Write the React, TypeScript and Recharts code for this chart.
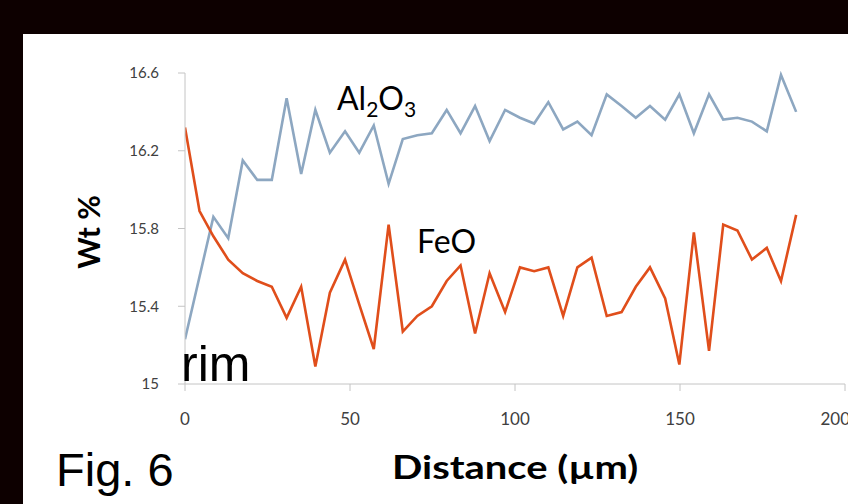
import React from "react";
import { LineChart, Line, XAxis, YAxis } from "recharts";

// distance along the traverse (µm)
const distance = [
  0, 4.4, 8.6, 13.1, 17.5, 21.9, 26.3, 30.8, 35.2, 39.5, 43.9, 48.5, 52.8, 57.2, 61.7,
  66.0, 70.4, 74.8, 79.3, 83.5, 87.9, 92.3, 97.0, 101.5, 105.8, 110.1, 114.6, 118.9,
  123.2, 127.8, 132.3, 136.6, 140.9, 145.5, 149.8, 154.2, 158.8, 163.1, 167.4, 171.8,
  176.3, 180.6, 185.2,
];

const al2o3 = [
  15.23, null, 15.86, 15.75, 16.15, 16.05, 16.05, 16.47, 16.08, 16.41, 16.19, 16.3,
  16.19, 16.33, 16.03, 16.26, 16.28, 16.29, 16.41, 16.29, 16.43, 16.25, 16.41, 16.37,
  16.34, 16.45, 16.31, 16.35, 16.28, 16.49, 16.43, 16.37, 16.43, 16.36, 16.49, 16.29,
  16.49, 16.36, 16.37, 16.35, 16.3, 16.59, 16.4,
];

const feo = [
  16.32, 15.89, 15.76, 15.64, 15.57, 15.53, 15.5, 15.34, 15.5, 15.09, 15.47, 15.64,
  15.41, 15.18, 15.82, 15.27, 15.35, 15.4, 15.53, 15.61, 15.26, 15.57, 15.37, 15.6,
  15.58, 15.6, 15.35, 15.6, 15.65, 15.35, 15.37, 15.5, 15.6, 15.44, 15.1, 15.78, 15.17,
  15.82, 15.79, 15.64, 15.7, 15.53, 15.87,
];

const xTicks = [0, 50, 100, 150, 200];
const yTicks = [15, 15.4, 15.8, 16.2, 16.6];

const data = distance.map((d, i) => ({ d, al: al2o3[i], fe: feo[i] }));

const calibri = "Lato, 'Noto Sans', sans-serif";
const arial = "'Liberation Sans', Arial, sans-serif";

const text = (style: React.CSSProperties): React.CSSProperties => ({
  position: "absolute",
  lineHeight: 1,
  whiteSpace: "nowrap",
  color: "#000",
  ...style,
});

export default function App() {
  return (
    <div
      style={{
        position: "fixed",
        left: 0,
        top: 0,
        width: 848,
        height: 504,
        background: "#0d0000",
        overflow: "hidden",
      }}
    >
      <div
        style={{
          position: "absolute",
          left: 23,
          top: 34,
          width: 825,
          height: 470,
          background: "#fff",
        }}
      >
        <LineChart
          width={825}
          height={470}
          data={data}
          margin={{ top: 39, right: 3, left: 0, bottom: 90 }}
        >
          <XAxis
            dataKey="d"
            type="number"
            domain={[0, 200]}
            ticks={xTicks}
            height={30}
            tickSize={7}
            tickMargin={22}
            stroke="#c4c4c4"
            tick={{ fill: "#404040", fontSize: 17, fontFamily: calibri }}
            allowDataOverflow
          />
          <YAxis
            type="number"
            domain={[15, 16.6]}
            ticks={yTicks}
            width={162}
            tickSize={7}
            tickMargin={19}
            stroke="#c4c4c4"
            tick={{ fill: "#404040", fontSize: 15, fontFamily: calibri }}
          />
          <Line
            dataKey="al"
            stroke="#8da7c1"
            strokeWidth={2.6}
            dot={false}
            connectNulls
            isAnimationActive={false}
          />
          <Line
            dataKey="fe"
            stroke="#e04e1b"
            strokeWidth={2.6}
            dot={false}
            isAnimationActive={false}
          />
        </LineChart>
      </div>

      <div style={text({ left: 337, top: 82, fontSize: 32, fontFamily: calibri })}>
        Al<sub style={{ fontSize: 21, verticalAlign: -7 }}>2</sub>O
        <sub style={{ fontSize: 21, verticalAlign: -7 }}>3</sub>
      </div>
      <div style={text({ left: 417, top: 225, fontSize: 32, fontFamily: calibri })}>FeO</div>
      <div style={text({ left: 181, top: 339, fontSize: 50, fontFamily: arial })}>rim</div>
      <div style={text({ left: 56, top: 446, fontSize: 47, fontFamily: arial })}>Fig. 6</div>
      <div
        style={text({
          left: 392,
          top: 450,
          fontSize: 33,
          fontWeight: 700,
          fontFamily: calibri,
          transform: "scaleX(1.21)",
          transformOrigin: "left center",
        })}
      >
        Distance (µm)
      </div>
      <div
        style={text({
          left: 88,
          top: 232,
          fontSize: 30,
          fontWeight: 700,
          fontFamily: calibri,
          transform: "translate(-50%, -50%) rotate(-90deg)",
        })}
      >
        Wt %
      </div>
    </div>
  );
}
